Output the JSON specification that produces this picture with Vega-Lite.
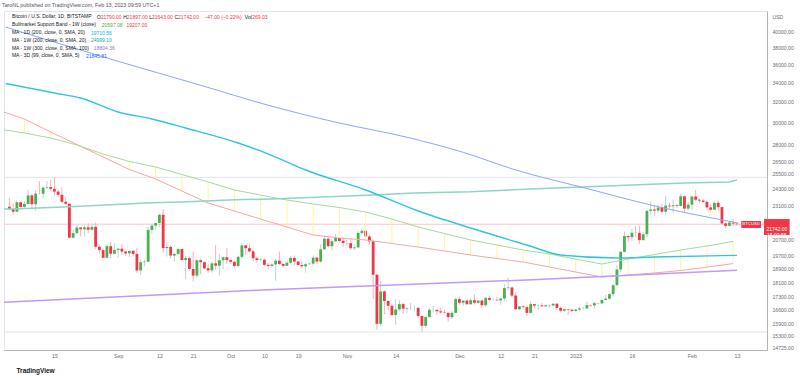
{
"$schema": "https://vega.github.io/schema/vega-lite/v6.json",
"width": 763, "height": 339,
"autosize": {"type": "none"},
"padding": {"left": 4, "top": 11, "right": 33, "bottom": 28},
"background": "white",
"config": {"view": {"stroke": "#e0e3eb"}, "font": "Liberation Sans", "text": {"font": "Liberation Sans"}},
"title": {"text": "TaroNL published on TradingView.com, Feb 13, 2023 09:59 UTC+1", "anchor": "start", "frame": "group", "fontSize": 5.3, "fontWeight": "normal", "color": "#50535e", "offset": 3, "dx": -2, "font": "Liberation Sans"},
"datasets": {
"candles": [
{"date":"2022-08-03","open":22980,"high":23640,"low":22700,"close":22820},
{"date":"2022-08-04","open":22820,"high":23220,"low":22430,"close":22620},
{"date":"2022-08-05","open":22620,"high":23450,"low":22590,"close":23310},
{"date":"2022-08-06","open":23310,"high":23360,"low":22930,"close":22960},
{"date":"2022-08-07","open":22960,"high":23380,"low":22850,"close":23180},
{"date":"2022-08-08","open":23180,"high":24250,"low":23160,"close":23810},
{"date":"2022-08-09","open":23810,"high":23930,"low":22880,"close":23160},
{"date":"2022-08-10","open":23160,"high":24220,"low":22680,"close":23950},
{"date":"2022-08-11","open":23950,"high":24900,"low":23900,"close":23940},
{"date":"2022-08-12","open":23940,"high":24460,"low":23600,"close":24400},
{"date":"2022-08-13","open":24400,"high":24900,"low":24300,"close":24440},
{"date":"2022-08-14","open":24440,"high":25050,"low":24190,"close":24310},
{"date":"2022-08-15","open":24310,"high":25210,"low":23800,"close":24100},
{"date":"2022-08-16","open":24100,"high":24250,"low":23700,"close":23860},
{"date":"2022-08-17","open":23860,"high":24440,"low":23200,"close":23340},
{"date":"2022-08-18","open":23340,"high":23600,"low":23100,"close":23200},
{"date":"2022-08-19","open":23200,"high":23200,"low":20800,"close":20840},
{"date":"2022-08-20","open":20840,"high":21380,"low":20770,"close":21150},
{"date":"2022-08-21","open":21150,"high":21690,"low":21080,"close":21520},
{"date":"2022-08-22","open":21520,"high":21520,"low":20900,"close":21400},
{"date":"2022-08-23","open":21400,"high":21650,"low":20910,"close":21530},
{"date":"2022-08-24","open":21530,"high":21810,"low":21140,"close":21370},
{"date":"2022-08-25","open":21370,"high":21800,"low":21330,"close":21560},
{"date":"2022-08-26","open":21560,"high":21860,"low":20120,"close":20250},
{"date":"2022-08-27","open":20250,"high":20340,"low":19830,"close":20040},
{"date":"2022-08-28","open":20040,"high":20140,"low":19560,"close":19560},
{"date":"2022-08-29","open":19560,"high":20400,"low":19560,"close":20290},
{"date":"2022-08-30","open":20290,"high":20560,"low":19560,"close":19810},
{"date":"2022-08-31","open":19810,"high":20490,"low":19800,"close":20050},
{"date":"2022-09-01","open":20050,"high":20200,"low":19560,"close":20130},
{"date":"2022-09-02","open":20130,"high":20440,"low":19760,"close":19950},
{"date":"2022-09-03","open":19950,"high":19970,"low":19660,"close":19830},
{"date":"2022-09-04","open":19830,"high":20000,"low":19600,"close":19990},
{"date":"2022-09-05","open":19990,"high":20050,"low":19640,"close":19800},
{"date":"2022-09-06","open":19800,"high":20180,"low":18650,"close":18790},
{"date":"2022-09-07","open":18790,"high":19460,"low":18530,"close":19290},
{"date":"2022-09-08","open":19290,"high":19450,"low":19030,"close":19320},
{"date":"2022-09-09","open":19320,"high":21560,"low":19300,"close":21360},
{"date":"2022-09-10","open":21360,"high":21790,"low":21100,"close":21650},
{"date":"2022-09-11","open":21650,"high":21840,"low":21360,"close":21830},
{"date":"2022-09-12","open":21830,"high":22490,"low":21560,"close":22400},
{"date":"2022-09-13","open":22400,"high":22800,"low":19880,"close":20170},
{"date":"2022-09-14","open":20170,"high":20530,"low":19640,"close":20240},
{"date":"2022-09-15","open":20240,"high":20340,"low":19520,"close":19700},
{"date":"2022-09-16","open":19700,"high":19870,"low":19330,"close":19800},
{"date":"2022-09-17","open":19800,"high":20190,"low":19700,"close":20110},
{"date":"2022-09-18","open":20110,"high":20110,"low":19390,"close":19420},
{"date":"2022-09-19","open":19420,"high":19690,"low":18270,"close":19540},
{"date":"2022-09-20","open":19540,"high":19640,"low":18740,"close":18880},
{"date":"2022-09-21","open":18880,"high":19950,"low":18150,"close":18490},
{"date":"2022-09-22","open":18490,"high":19490,"low":18370,"close":19410},
{"date":"2022-09-23","open":19410,"high":19480,"low":18560,"close":19290},
{"date":"2022-09-24","open":19290,"high":19310,"low":18830,"close":18920},
{"date":"2022-09-25","open":18920,"high":19180,"low":18650,"close":18800},
{"date":"2022-09-26","open":18800,"high":19310,"low":18680,"close":19220},
{"date":"2022-09-27","open":19220,"high":20360,"low":18830,"close":19080},
{"date":"2022-09-28","open":19080,"high":19780,"low":18500,"close":19410},
{"date":"2022-09-29","open":19410,"high":19640,"low":18880,"close":19590},
{"date":"2022-09-30","open":19590,"high":20170,"low":19190,"close":19420},
{"date":"2022-10-01","open":19420,"high":19480,"low":19160,"close":19310},
{"date":"2022-10-02","open":19310,"high":19390,"low":18930,"close":19060},
{"date":"2022-10-03","open":19060,"high":19700,"low":18970,"close":19620},
{"date":"2022-10-04","open":19620,"high":20480,"low":19520,"close":20340},
{"date":"2022-10-05","open":20340,"high":20360,"low":19760,"close":20160},
{"date":"2022-10-06","open":20160,"high":20450,"low":19880,"close":19960},
{"date":"2022-10-07","open":19960,"high":20060,"low":19350,"close":19530},
{"date":"2022-10-08","open":19530,"high":19610,"low":19260,"close":19420},
{"date":"2022-10-09","open":19420,"high":19550,"low":19330,"close":19440},
{"date":"2022-10-10","open":19440,"high":19520,"low":19030,"close":19130},
{"date":"2022-10-11","open":19130,"high":19260,"low":18870,"close":19060},
{"date":"2022-10-12","open":19060,"high":19220,"low":18980,"close":19150},
{"date":"2022-10-13","open":19150,"high":19510,"low":18190,"close":19380},
{"date":"2022-10-14","open":19380,"high":19950,"low":19090,"close":19180},
{"date":"2022-10-15","open":19180,"high":19220,"low":18980,"close":19070},
{"date":"2022-10-16","open":19070,"high":19380,"low":19060,"close":19260},
{"date":"2022-10-17","open":19260,"high":19680,"low":19160,"close":19550},
{"date":"2022-10-18","open":19550,"high":19700,"low":19100,"close":19330},
{"date":"2022-10-19","open":19330,"high":19360,"low":19070,"close":19120},
{"date":"2022-10-20","open":19120,"high":19340,"low":18910,"close":19040},
{"date":"2022-10-21","open":19040,"high":19250,"low":18660,"close":19170},
{"date":"2022-10-22","open":19170,"high":19250,"low":19130,"close":19200},
{"date":"2022-10-23","open":19200,"high":19690,"low":19080,"close":19570},
{"date":"2022-10-24","open":19570,"high":19600,"low":19160,"close":19330},
{"date":"2022-10-25","open":19330,"high":20400,"low":19250,"close":20090},
{"date":"2022-10-26","open":20090,"high":21020,"low":20060,"close":20770},
{"date":"2022-10-27","open":20770,"high":20870,"low":20230,"close":20290},
{"date":"2022-10-28","open":20290,"high":20750,"low":20010,"close":20600},
{"date":"2022-10-29","open":20600,"high":21080,"low":20560,"close":20820},
{"date":"2022-10-30","open":20820,"high":20920,"low":20520,"close":20630},
{"date":"2022-10-31","open":20630,"high":20840,"low":20240,"close":20490},
{"date":"2022-11-01","open":20490,"high":20680,"low":20340,"close":20480},
{"date":"2022-11-02","open":20480,"high":20790,"low":20060,"close":20160},
{"date":"2022-11-03","open":20160,"high":20390,"low":20040,"close":20210},
{"date":"2022-11-04","open":20210,"high":21300,"low":20180,"close":21150},
{"date":"2022-11-05","open":21150,"high":21470,"low":21080,"close":21300},
{"date":"2022-11-06","open":21300,"high":21370,"low":20900,"close":20920},
{"date":"2022-11-07","open":20920,"high":21060,"low":20400,"close":20600},
{"date":"2022-11-08","open":20600,"high":20670,"low":17170,"close":18540},
{"date":"2022-11-09","open":18540,"high":18600,"low":15590,"close":15880},
{"date":"2022-11-10","open":15880,"high":18150,"low":15770,"close":17590},
{"date":"2022-11-11","open":17590,"high":17650,"low":16360,"close":17070},
{"date":"2022-11-12","open":17070,"high":17090,"low":16570,"close":16810},
{"date":"2022-11-13","open":16810,"high":16900,"low":16270,"close":16330},
{"date":"2022-11-14","open":16330,"high":17170,"low":15830,"close":16620},
{"date":"2022-11-15","open":16620,"high":17110,"low":16550,"close":16900},
{"date":"2022-11-16","open":16900,"high":16960,"low":16400,"close":16660},
{"date":"2022-11-17","open":16660,"high":16740,"low":16420,"close":16690},
{"date":"2022-11-18","open":16690,"high":16970,"low":16570,"close":16700},
{"date":"2022-11-19","open":16700,"high":16810,"low":16560,"close":16700},
{"date":"2022-11-20","open":16700,"high":16740,"low":16170,"close":16280},
{"date":"2022-11-21","open":16280,"high":16300,"low":15480,"close":15780},
{"date":"2022-11-22","open":15780,"high":16250,"low":15650,"close":16230},
{"date":"2022-11-23","open":16230,"high":16690,"low":16170,"close":16600},
{"date":"2022-11-24","open":16600,"high":16800,"low":16470,"close":16600},
{"date":"2022-11-25","open":16600,"high":16600,"low":16350,"close":16520},
{"date":"2022-11-26","open":16520,"high":16680,"low":16410,"close":16460},
{"date":"2022-11-27","open":16460,"high":16600,"low":16410,"close":16440},
{"date":"2022-11-28","open":16440,"high":16480,"low":16000,"close":16220},
{"date":"2022-11-29","open":16220,"high":16530,"low":16110,"close":16440},
{"date":"2022-11-30","open":16440,"high":17250,"low":16430,"close":17170},
{"date":"2022-12-01","open":17170,"high":17320,"low":16860,"close":16970},
{"date":"2022-12-02","open":16970,"high":17100,"low":16790,"close":17090},
{"date":"2022-12-03","open":17090,"high":17150,"low":16880,"close":16890},
{"date":"2022-12-04","open":16890,"high":17200,"low":16870,"close":17110},
{"date":"2022-12-05","open":17110,"high":17420,"low":16880,"close":16970},
{"date":"2022-12-06","open":16970,"high":17110,"low":16910,"close":17090},
{"date":"2022-12-07","open":17090,"high":17140,"low":16680,"close":16840},
{"date":"2022-12-08","open":16840,"high":17290,"low":16740,"close":17230},
{"date":"2022-12-09","open":17230,"high":17360,"low":17070,"close":17130},
{"date":"2022-12-10","open":17130,"high":17230,"low":17090,"close":17130},
{"date":"2022-12-11","open":17130,"high":17270,"low":17070,"close":17100},
{"date":"2022-12-12","open":17100,"high":17240,"low":16870,"close":17200},
{"date":"2022-12-13","open":17200,"high":18000,"low":17080,"close":17780},
{"date":"2022-12-14","open":17780,"high":18390,"low":17660,"close":17810},
{"date":"2022-12-15","open":17810,"high":17850,"low":17280,"close":17360},
{"date":"2022-12-16","open":17360,"high":17530,"low":16580,"close":16630},
{"date":"2022-12-17","open":16630,"high":16800,"low":16580,"close":16780},
{"date":"2022-12-18","open":16780,"high":16860,"low":16670,"close":16740},
{"date":"2022-12-19","open":16740,"high":16820,"low":16280,"close":16440},
{"date":"2022-12-20","open":16440,"high":17050,"low":16400,"close":16900},
{"date":"2022-12-21","open":16900,"high":16910,"low":16710,"close":16820},
{"date":"2022-12-22","open":16820,"high":16870,"low":16580,"close":16830},
{"date":"2022-12-23","open":16830,"high":16950,"low":16750,"close":16780},
{"date":"2022-12-24","open":16780,"high":16870,"low":16780,"close":16840},
{"date":"2022-12-25","open":16840,"high":16870,"low":16730,"close":16830},
{"date":"2022-12-26","open":16830,"high":16940,"low":16790,"close":16920},
{"date":"2022-12-27","open":16920,"high":16960,"low":16600,"close":16700},
{"date":"2022-12-28","open":16700,"high":16780,"low":16460,"close":16550},
{"date":"2022-12-29","open":16550,"high":16650,"low":16490,"close":16630},
{"date":"2022-12-30","open":16630,"high":16640,"low":16330,"close":16600},
{"date":"2022-12-31","open":16600,"high":16640,"low":16480,"close":16540},
{"date":"2023-01-01","open":16540,"high":16630,"low":16500,"close":16610},
{"date":"2023-01-02","open":16610,"high":16780,"low":16550,"close":16670},
{"date":"2023-01-03","open":16670,"high":16760,"low":16600,"close":16670},
{"date":"2023-01-04","open":16670,"high":17010,"low":16650,"close":16850},
{"date":"2023-01-05","open":16850,"high":16880,"low":16750,"close":16830},
{"date":"2023-01-06","open":16830,"high":17030,"low":16680,"close":16950},
{"date":"2023-01-07","open":16950,"high":16960,"low":16900,"close":16940},
{"date":"2023-01-08","open":16940,"high":17170,"low":16920,"close":17120},
{"date":"2023-01-09","open":17120,"high":17390,"low":17110,"close":17190},
{"date":"2023-01-10","open":17190,"high":17490,"low":17150,"close":17440},
{"date":"2023-01-11","open":17440,"high":17990,"low":17320,"close":17940},
{"date":"2023-01-12","open":17940,"high":19100,"low":17930,"close":18850},
{"date":"2023-01-13","open":18850,"high":19980,"low":18710,"close":19930},
{"date":"2023-01-14","open":19930,"high":21260,"low":19900,"close":20950},
{"date":"2023-01-15","open":20950,"high":21000,"low":20560,"close":20870},
{"date":"2023-01-16","open":20870,"high":21440,"low":20620,"close":21170},
{"date":"2023-01-17","open":21170,"high":21620,"low":20910,"close":21160},
{"date":"2023-01-18","open":21160,"high":21650,"low":20420,"close":20680},
{"date":"2023-01-19","open":20680,"high":21200,"low":20660,"close":21070},
{"date":"2023-01-20","open":21070,"high":22730,"low":20880,"close":22680},
{"date":"2023-01-21","open":22680,"high":23360,"low":22420,"close":22780},
{"date":"2023-01-22","open":22780,"high":23060,"low":22330,"close":22700},
{"date":"2023-01-23","open":22700,"high":23160,"low":22540,"close":22920},
{"date":"2023-01-24","open":22920,"high":23170,"low":22480,"close":22620},
{"date":"2023-01-25","open":22620,"high":23790,"low":22370,"close":23060},
{"date":"2023-01-26","open":23060,"high":23270,"low":22860,"close":23010},
{"date":"2023-01-27","open":23010,"high":23500,"low":22550,"close":23080},
{"date":"2023-01-28","open":23080,"high":23170,"low":22880,"close":23030},
{"date":"2023-01-29","open":23030,"high":23950,"low":23000,"close":23750},
{"date":"2023-01-30","open":23750,"high":23800,"low":22560,"close":22840},
{"date":"2023-01-31","open":22840,"high":23320,"low":22730,"close":23130},
{"date":"2023-02-01","open":23130,"high":23800,"low":22760,"close":23730},
{"date":"2023-02-02","open":23730,"high":24240,"low":23380,"close":23490},
{"date":"2023-02-03","open":23490,"high":23590,"low":23230,"close":23430},
{"date":"2023-02-04","open":23430,"high":23590,"low":23280,"close":23330},
{"date":"2023-02-05","open":23330,"high":23440,"low":22760,"close":22930},
{"date":"2023-02-06","open":22930,"high":23160,"low":22630,"close":22760},
{"date":"2023-02-07","open":22760,"high":23350,"low":22740,"close":23260},
{"date":"2023-02-08","open":23260,"high":23450,"low":22690,"close":22950},
{"date":"2023-02-09","open":22950,"high":23000,"low":21710,"close":21800},
{"date":"2023-02-10","open":21800,"high":21920,"low":21480,"close":21630},
{"date":"2023-02-11","open":21630,"high":21900,"low":21600,"close":21860},
{"date":"2023-02-12","open":21860,"high":22090,"low":21640,"close":21790},
{"date":"2023-02-13","open":21790,"high":21897,"low":21643,"close":21742}
],
"bmsb": [
{"date":"2022-07-31","g":29364,"r":31176},
{"date":"2022-08-07","g":28994,"r":30304},
{"date":"2022-08-14","g":28542,"r":29086},
{"date":"2022-08-21","g":27919,"r":27963},
{"date":"2022-08-28","g":27135,"r":26878},
{"date":"2022-09-04","g":26500,"r":25842},
{"date":"2022-09-11","g":26046,"r":25078},
{"date":"2022-09-18","g":25437,"r":24146},
{"date":"2022-09-25","g":24842,"r":23249},
{"date":"2022-10-02","g":24222,"r":22670},
{"date":"2022-10-09","g":23841,"r":22103},
{"date":"2022-10-16","g":23471,"r":21553},
{"date":"2022-10-23","g":23176,"r":21015},
{"date":"2022-10-30","g":22921,"r":20819},
{"date":"2022-11-06","g":22597,"r":20688},
{"date":"2022-11-13","g":22103,"r":20460},
{"date":"2022-11-20","g":21553,"r":20236},
{"date":"2022-11-27","g":21117,"r":19982},
{"date":"2022-12-04","g":20688,"r":19731},
{"date":"2022-12-11","g":20364,"r":19513},
{"date":"2022-12-18","g":20044,"r":19299},
{"date":"2022-12-25","g":19793,"r":18998},
{"date":"2023-01-01","g":19482,"r":18700},
{"date":"2023-01-08","g":19178,"r":18409},
{"date":"2023-01-15","g":19482,"r":18526},
{"date":"2023-01-22","g":19762,"r":18643},
{"date":"2023-01-29","g":20044,"r":18790},
{"date":"2023-02-05","g":20300,"r":18990},
{"date":"2023-02-12","g":20597,"r":19207}
],
"ma3d": [
{"date":"2022-08-02","v":40500},{"date":"2022-08-31","v":36480},{"date":"2022-09-23","v":33710},{"date":"2022-10-11","v":31650},{"date":"2022-10-29","v":30000},{"date":"2022-11-17","v":28610},{"date":"2022-12-02","v":27280},{"date":"2022-12-16","v":25800},{"date":"2023-01-03","v":24410},{"date":"2023-01-22","v":23040},{"date":"2023-02-13","v":21846}
],
"ma200d": [
{"date":"2022-08-02","v":33900},{"date":"2022-08-15","v":32893},{"date":"2022-08-22","v":32379},{"date":"2022-09-01","v":30980},{"date":"2022-09-10","v":30304},{"date":"2022-09-19","v":29456},{"date":"2022-10-03","v":28095},{"date":"2022-10-13","v":26878},{"date":"2022-10-21","v":25800},{"date":"2022-11-06","v":24222},{"date":"2022-11-20","v":22670},{"date":"2022-12-04","v":21485},{"date":"2022-12-19","v":20364},{"date":"2022-12-28","v":19731},{"date":"2023-01-12","v":19546},{"date":"2023-01-22","v":19606},{"date":"2023-02-13","v":19711}
],
"ma200w": [
{"date":"2022-07-31","v":22800},{"date":"2022-08-04","v":22820},{"date":"2022-08-19","v":22970},{"date":"2022-09-10","v":23260},{"date":"2022-09-18","v":23330},{"date":"2022-10-02","v":23480},{"date":"2022-10-12","v":23550},{"date":"2022-11-08","v":23850},{"date":"2022-11-19","v":24000},{"date":"2022-12-04","v":24080},{"date":"2022-12-20","v":24300},{"date":"2023-01-16","v":24610},{"date":"2023-01-30","v":24760},{"date":"2023-02-11","v":24840},{"date":"2023-02-13","v":24999}
],
"ma300w": [
{"date":"2022-07-31","v":16990},{"date":"2022-10-11","v":17680},{"date":"2022-11-15","v":17960},{"date":"2022-12-19","v":18240},{"date":"2023-02-13","v":18804}
],
"levels": [{"level":25211},{"level":15476}]
},
"layer": [
{"data":{"name":"levels"},"mark":{"type":"rule","color":"#e0e3eb","strokeWidth":1},"encoding":{"y":{"field":"level","type":"quantitative"}}},
{"data":{"name":"candles"},"transform":[{"window":[{"op":"row_number","as":"rn"}],"sort":[{"field":"date","order":"descending"}]},{"filter":"datum.rn == 1"}],"mark":{"type":"rule","color":"#fbc4c8","strokeWidth":1},"encoding":{"y":{"field":"close","type":"quantitative"}}},
{"data":{"name":"candles"},"mark":{"type":"rule","strokeWidth":1,"clip":true},"encoding":{
 "x":{"field":"date","type":"temporal","scale":{"type":"utc","domain":[{"year":2022,"month":8,"date":2,"hours":21,"minutes":30,"utc":true},{"year":2023,"month":2,"date":19,"hours":16,"minutes":24,"utc":true}]},
  "axis":{"values":[{"year":2022,"month":8,"date":15,"utc":true},{"year":2022,"month":9,"date":1,"utc":true},{"year":2022,"month":9,"date":12,"utc":true},{"year":2022,"month":9,"date":21,"utc":true},{"year":2022,"month":10,"date":1,"utc":true},{"year":2022,"month":10,"date":10,"utc":true},{"year":2022,"month":10,"date":19,"utc":true},{"year":2022,"month":11,"date":1,"utc":true},{"year":2022,"month":11,"date":14,"utc":true},{"year":2022,"month":12,"date":1,"utc":true},{"year":2022,"month":12,"date":12,"utc":true},{"year":2022,"month":12,"date":21,"utc":true},{"year":2023,"month":1,"date":1,"utc":true},{"year":2023,"month":1,"date":16,"utc":true},{"year":2023,"month":2,"date":1,"utc":true},{"year":2023,"month":2,"date":13,"utc":true}],
  "labelExpr":"utcdate(datum.value) == 1 ? (utcmonth(datum.value) == 0 ? utcFormat(datum.value, '%Y') : utcFormat(datum.value, '%b')) : utcFormat(datum.value, '%-d')",
  "title":"TradingView","titleAnchor":"start","titleAlign":"left","titleX":12,"titleY":20,"titleBaseline":"middle","titleFontSize":6.5,"titleFontWeight":"bold","titleColor":"#131722","titleFont":"Liberation Sans",
  "ticks":false,"grid":false,"domainColor":"#b2b5be","labelFontSize":5.3,"labelColor":"#6a6d78","labelPadding":3,"labelOverlap":false,"labelFlush":false,"labelFont":"Liberation Sans"}},
 "y":{"field":"low","type":"quantitative","scale":{"type":"log","domain":[14622,42606],"nice":false},
  "axis":{"orient":"right","values":[40000,38000,36000,34000,32000,30000,28000,26500,25500,24300,23100,20700,19700,18900,18100,17300,16600,15900,15300,14725],"format":".2f",
  "title":"USD","titleAngle":0,"titleX":5,"titleY":5,"titleAlign":"left","titleBaseline":"middle","titleFontSize":5.1,"titleFontWeight":"normal","titleColor":"#6a6d78","titleFont":"Liberation Sans",
  "ticks":false,"grid":false,"domainColor":"#b2b5be","labelFontSize":5.1,"labelColor":"#6a6d78","labelPadding":5,"labelOverlap":false,"labelBound":false,"labelFont":"Liberation Sans"}},
 "y2":{"field":"high"},
 "color":{"condition":{"test":"datum.close >= datum.open","value":"#b5d5d8"},"value":"#f6b0b6"}}},
{"data":{"name":"candles"},"mark":{"type":"bar","size":2.8,"clip":true},"encoding":{
 "x":{"field":"date","type":"temporal"},
 "y":{"field":"open","type":"quantitative"},
 "y2":{"field":"close"},
 "color":{"condition":{"test":"datum.close >= datum.open","value":"#4caf50"},"value":"#f23645"}}},
{"data":{"name":"bmsb"},"mark":{"type":"rule","color":"#fff59d","strokeWidth":1,"clip":true},"encoding":{"x":{"field":"date","type":"temporal"},"y":{"field":"g","type":"quantitative"},"y2":{"field":"r"}}},
{"data":{"name":"bmsb"},"mark":{"type":"line","color":"#f6a6a6","strokeWidth":1,"clip":true},"encoding":{"x":{"field":"date","type":"temporal"},"y":{"field":"r","type":"quantitative"}}},
{"data":{"name":"bmsb"},"mark":{"type":"line","color":"#a8d8a0","strokeWidth":1,"clip":true},"encoding":{"x":{"field":"date","type":"temporal"},"y":{"field":"g","type":"quantitative"}}},
{"data":{"name":"ma300w"},"mark":{"type":"line","color":"#c09af5","strokeWidth":1.5,"clip":true},"encoding":{"x":{"field":"date","type":"temporal"},"y":{"field":"v","type":"quantitative"}}},
{"data":{"name":"ma200w"},"mark":{"type":"line","color":"#8fd3c7","strokeWidth":1.5,"clip":true},"encoding":{"x":{"field":"date","type":"temporal"},"y":{"field":"v","type":"quantitative"}}},
{"data":{"name":"ma200d"},"mark":{"type":"line","color":"#33c5dc","strokeWidth":1.4,"clip":true,"interpolate":"monotone"},"encoding":{"x":{"field":"date","type":"temporal"},"y":{"field":"v","type":"quantitative"}}},
{"data":{"name":"ma3d"},"mark":{"type":"line","color":"#8ea6f4","strokeWidth":1,"clip":true,"interpolate":"monotone"},"encoding":{"x":{"field":"date","type":"temporal"},"y":{"field":"v","type":"quantitative"}}},
{"data":{"values":[{}]},"mark":{"type":"text","text":["Bitcoin / U.S. Dollar, 1D, BITSTAMP","Bullmarket Support Band - 1W (close)","MA - 1D (200, close, 0, SMA, 20)","MA - 1W (200, close, 0, SMA, 20)","MA - 1W (300, close, 0, SMA, 100)","MA - 3D (99, close, 0, SMA, 5)"],"align":"left","baseline":"top","fontSize":5,"lineHeight":7.8,"color":"#131722"},"encoding":{"x":{"datum":{"year":2022,"month":8,"date":3,"hours":16,"minutes":24,"utc":true},"type":"temporal"},"y":{"datum":42163,"type":"quantitative"}}},
{"data":{"values":[{}]},"mark":{"type":"text","text":"O","align":"left","baseline":"middle","fontSize":5,"color":"#131722"},"encoding":{"x":{"datum":{"year":2022,"month":8,"date":26,"hours":7,"minutes":36,"utc":true},"type":"temporal"},"y":{"datum":41808,"type":"quantitative"}}},
{"data":{"values":[{}]},"mark":{"type":"text","text":"21790.00","align":"left","baseline":"middle","fontSize":5,"color":"#f23645"},"encoding":{"x":{"datum":{"year":2022,"month":8,"date":27,"hours":8,"minutes":48,"utc":true},"type":"temporal"},"y":{"datum":41808,"type":"quantitative"}}},
{"data":{"values":[{}]},"mark":{"type":"text","text":"H","align":"left","baseline":"middle","fontSize":5,"color":"#131722"},"encoding":{"x":{"datum":{"year":2022,"month":9,"date":2,"hours":8,"minutes":12,"utc":true},"type":"temporal"},"y":{"datum":41808,"type":"quantitative"}}},
{"data":{"values":[{}]},"mark":{"type":"text","text":"21897.00","align":"left","baseline":"middle","fontSize":5,"color":"#f23645"},"encoding":{"x":{"datum":{"year":2022,"month":9,"date":3,"hours":7,"minutes":36,"utc":true},"type":"temporal"},"y":{"datum":41808,"type":"quantitative"}}},
{"data":{"values":[{}]},"mark":{"type":"text","text":"L","align":"left","baseline":"middle","fontSize":5,"color":"#131722"},"encoding":{"x":{"datum":{"year":2022,"month":9,"date":9,"hours":6,"minutes":54,"utc":true},"type":"temporal"},"y":{"datum":41808,"type":"quantitative"}}},
{"data":{"values":[{}]},"mark":{"type":"text","text":"21643.00","align":"left","baseline":"middle","fontSize":5,"color":"#f23645"},"encoding":{"x":{"datum":{"year":2022,"month":9,"date":10,"hours":0,"minutes":42,"utc":true},"type":"temporal"},"y":{"datum":41808,"type":"quantitative"}}},
{"data":{"values":[{}]},"mark":{"type":"text","text":"C","align":"left","baseline":"middle","fontSize":5,"color":"#131722"},"encoding":{"x":{"datum":{"year":2022,"month":9,"date":15,"hours":23,"minutes":54,"utc":true},"type":"temporal"},"y":{"datum":41808,"type":"quantitative"}}},
{"data":{"values":[{}]},"mark":{"type":"text","text":"21742.00","align":"left","baseline":"middle","fontSize":5,"color":"#f23645"},"encoding":{"x":{"datum":{"year":2022,"month":9,"date":16,"hours":23,"minutes":24,"utc":true},"type":"temporal"},"y":{"datum":41808,"type":"quantitative"}}},
{"data":{"values":[{}]},"mark":{"type":"text","text":"−47.00 (−0.22%)","align":"left","baseline":"middle","fontSize":5,"color":"#f23645"},"encoding":{"x":{"datum":{"year":2022,"month":9,"date":24,"hours":0,"minutes":6,"utc":true},"type":"temporal"},"y":{"datum":41808,"type":"quantitative"}}},
{"data":{"values":[{}]},"mark":{"type":"text","text":"Vol","align":"left","baseline":"middle","fontSize":5,"color":"#131722"},"encoding":{"x":{"datum":{"year":2022,"month":10,"date":4,"hours":18,"minutes":54,"utc":true},"type":"temporal"},"y":{"datum":41808,"type":"quantitative"}}},
{"data":{"values":[{}]},"mark":{"type":"text","text":"269.03","align":"left","baseline":"middle","fontSize":5,"color":"#f23645"},"encoding":{"x":{"datum":{"year":2022,"month":10,"date":6,"hours":17,"minutes":42,"utc":true},"type":"temporal"},"y":{"datum":41808,"type":"quantitative"}}},
{"data":{"values":[{}]},"mark":{"type":"text","text":"20597.08","align":"left","baseline":"middle","fontSize":5,"color":"#4caf50"},"encoding":{"x":{"datum":{"year":2022,"month":8,"date":27,"hours":15,"minutes":12,"utc":true},"type":"temporal"},"y":{"datum":40790,"type":"quantitative"}}},
{"data":{"values":[{}]},"mark":{"type":"text","text":"19207.00","align":"left","baseline":"middle","fontSize":5,"color":"#f23645"},"encoding":{"x":{"datum":{"year":2022,"month":9,"date":3,"hours":5,"minutes":6,"utc":true},"type":"temporal"},"y":{"datum":40790,"type":"quantitative"}}},
{"data":{"values":[{}]},"mark":{"type":"text","text":"19710.56","align":"left","baseline":"middle","fontSize":5,"color":"#00bcd4"},"encoding":{"x":{"datum":{"year":2022,"month":8,"date":24,"hours":17,"minutes":42,"utc":true},"type":"temporal"},"y":{"datum":39799,"type":"quantitative"}}},
{"data":{"values":[{}]},"mark":{"type":"text","text":"24999.10","align":"left","baseline":"middle","fontSize":5,"color":"#26a69a"},"encoding":{"x":{"datum":{"year":2022,"month":8,"date":24,"hours":17,"minutes":42,"utc":true},"type":"temporal"},"y":{"datum":38832,"type":"quantitative"}}},
{"data":{"values":[{}]},"mark":{"type":"text","text":"18804.36","align":"left","baseline":"middle","fontSize":5,"color":"#9575cd"},"encoding":{"x":{"datum":{"year":2022,"month":8,"date":25,"hours":12,"minutes":36,"utc":true},"type":"temporal"},"y":{"datum":37885,"type":"quantitative"}}},
{"data":{"values":[{}]},"mark":{"type":"text","text":"21845.81","align":"left","baseline":"middle","fontSize":5,"color":"#2962ff"},"encoding":{"x":{"datum":{"year":2022,"month":8,"date":23,"hours":10,"minutes":6,"utc":true},"type":"temporal"},"y":{"datum":36965,"type":"quantitative"}}},
{"data":{"values":[{}]},"mark":{"type":"rect","color":"#f23645","clip":false},"encoding":{"x":{"datum":{"year":2023,"month":2,"date":14,"hours":3,"minutes":48,"utc":true},"type":"temporal"},"x2":{"datum":{"year":2023,"month":2,"date":19,"hours":10,"minutes":6,"utc":true}},"y":{"datum":21965,"type":"quantitative"},"y2":{"datum":21485}}},
{"data":{"values":[{}]},"mark":{"type":"text","text":"BTCUSD","align":"center","baseline":"middle","fontSize":4.3,"color":"white","clip":false},"encoding":{"x":{"datum":{"year":2023,"month":2,"date":16,"hours":18,"minutes":54,"utc":true},"type":"temporal"},"y":{"datum":21742,"type":"quantitative"}}},
{"data":{"values":[{}]},"mark":{"type":"rect","color":"#f23645","clip":false},"encoding":{"x":{"datum":{"year":2023,"month":2,"date":20,"hours":5,"minutes":6,"utc":true},"type":"temporal"},"x2":{"datum":{"year":2023,"month":2,"date":27,"hours":1,"minutes":18,"utc":true}},"y":{"datum":22103,"type":"quantitative"},"y2":{"datum":21015}}},
{"data":{"values":[{}]},"mark":{"type":"text","text":["21742.00","15:00:56"],"align":"center","baseline":"middle","fontSize":5,"lineHeight":6.4,"color":"white","clip":false},"encoding":{"x":{"datum":{"year":2023,"month":2,"date":23,"hours":15,"minutes":12,"utc":true},"type":"temporal"},"y":{"datum":21450,"type":"quantitative"}}}
]
}
